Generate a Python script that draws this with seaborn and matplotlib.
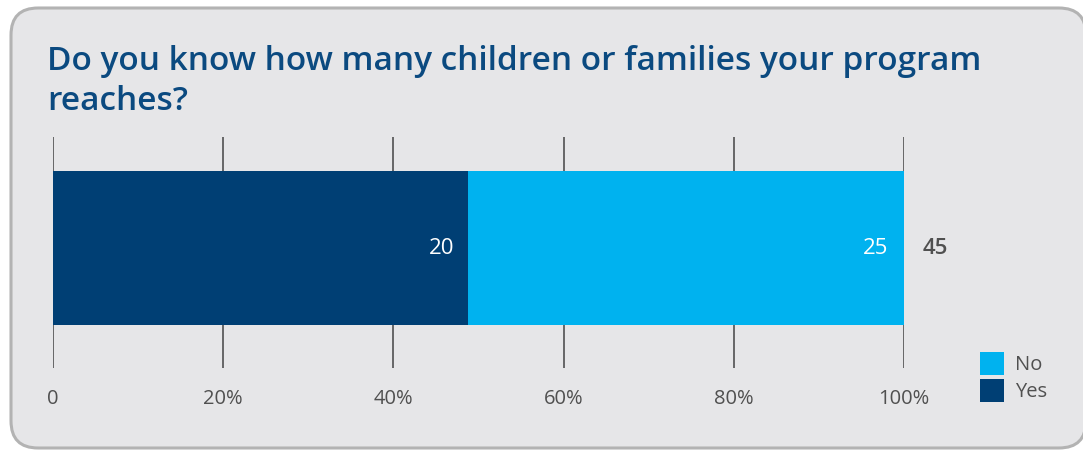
import matplotlib
matplotlib.use("Agg")
import matplotlib.pyplot as plt
import seaborn as sns
import pandas as pd
from matplotlib.patches import FancyBboxPatch, Patch

# ---- data ----
question = "Do you know how many children or families your program\nreaches?"
answers = ["Yes", "No"]
counts = [20, 25]
shares_pct = [48.8, 51.2]          # bar widths
tick_values = [0, 20, 40, 60, 80, 100]
tick_labels = ["0", "20%", "40%", "60%", "80%", "100%"]
total_label = "45"

colors = {"Yes": "#003f74", "No": "#00b2ef"}
bg = "#e6e6e8"
grey_text = "#505050"
title_color = "#0b4a80"

sns.set_theme(style="white")
plt.rcParams["font.family"] = ["Open Sans", "DejaVu Sans"]

W, H = 1083, 451
fig = plt.figure(figsize=(W / 100, H / 100), dpi=100)
fig.patch.set_facecolor("white")

# rounded panel
panel = FancyBboxPatch((11 / W, 3 / H), 1075 / W, 440 / H,
                       boxstyle="round,pad=0,rounding_size=0.025",
                       transform=fig.transFigure, facecolor=bg,
                       edgecolor="#b3b3b3", linewidth=2.2, mutation_aspect=W / H,
                       zorder=-10)
fig.patches.append(panel)

fig.text(47 / W, 1 - 45 / H, question, color=title_color, fontsize=24,
         fontweight="semibold", va="top", ha="left", linespacing=1.27)

ax = fig.add_axes([53 / W, 1 - 368 / H, 851 / W, 231 / H])
ax.set_facecolor("none")

df_total = pd.DataFrame({"q": ["q"], "v": [shares_pct[0] + shares_pct[1]]})
df_yes = pd.DataFrame({"q": ["q"], "v": [shares_pct[0]]})
sns.barplot(data=df_total, x="v", y="q", orient="h", color=colors["No"],
            saturation=1, width=1, ax=ax, zorder=3, linewidth=0)
sns.barplot(data=df_yes, x="v", y="q", orient="h", color=colors["Yes"],
            saturation=1, width=1, ax=ax, zorder=4, linewidth=0)

for v in tick_values:
    ax.axvline(v, color="#444444", linewidth=1.1, zorder=1)

ax.set_xlim(0, 100)
ax.set_ylim(0.779, -0.721)
ax.set_xticks(tick_values)
ax.set_xticklabels(tick_labels, color=grey_text, fontsize=14.5,
                   fontweight="medium")
ax.tick_params(axis="x", length=0, pad=15)
ax.set_yticks([])
ax.set_xlabel("")
ax.set_ylabel("")
for s in ax.spines.values():
    s.set_visible(False)

# value labels
ax.text(shares_pct[0] - 1.6, 0, str(counts[0]), color="white", fontsize=16,
        ha="right", va="center", fontweight="medium", zorder=10)
ax.text(shares_pct[0] + shares_pct[1] - 1.8, 0, str(counts[1]), color="white",
        fontsize=16, ha="right", va="center", fontweight="medium", zorder=10)
ax.text(102.2, 0, total_label, color=grey_text, fontsize=16, ha="left",
        va="center", fontweight="semibold", clip_on=False, zorder=10)

handles = [Patch(facecolor=colors["No"], label="No", linewidth=0),
           Patch(facecolor=colors["Yes"], label="Yes", linewidth=0)]
leg = fig.legend(handles=handles, loc="upper left",
                 bbox_to_anchor=(966 / W, 1 - 338 / H), frameon=False,
                 fontsize=14.5, handlelength=1.2, handleheight=1.35,
                 handletextpad=0.55, labelspacing=0.2, borderpad=0.2)
for t in leg.get_texts():
    t.set_color(grey_text)

fig.savefig("out.png", dpi=100, facecolor="white")
